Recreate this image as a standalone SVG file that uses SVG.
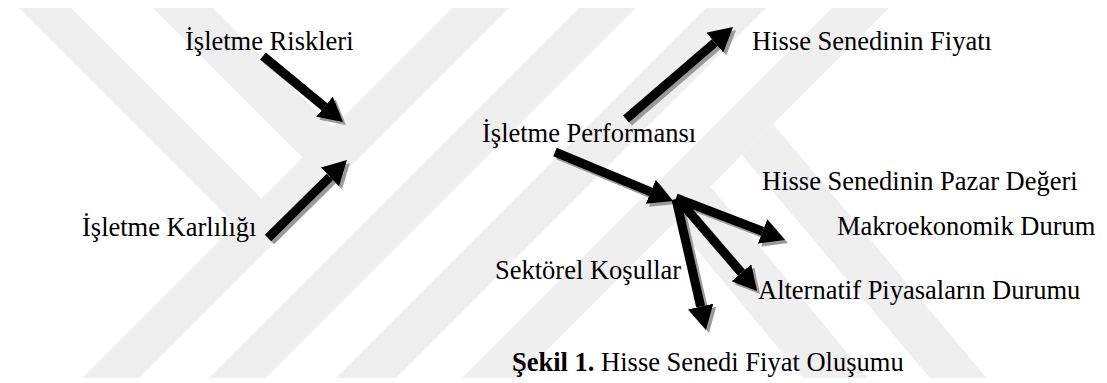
<svg xmlns="http://www.w3.org/2000/svg" width="1107" height="383" viewBox="0 0 1107 383">
<style>
text{font-family:"Liberation Serif","Times New Roman",serif;font-size:26.5px;fill:#000}
.ln{stroke:#000;stroke-width:9;fill:none}
.sh{stroke:#9a9a9a;stroke-width:9;fill:none}
.wm{fill:#efefef}
</style>
<defs>
<marker id="hb" markerUnits="userSpaceOnUse" markerWidth="24" markerHeight="26" refX="0" refY="13" orient="auto" viewBox="0 0 24 26"><path d="M0,0 L24,13 L0,26 z" fill="#000"/></marker>
<marker id="hg" markerUnits="userSpaceOnUse" markerWidth="24" markerHeight="26" refX="0" refY="13" orient="auto" viewBox="0 0 24 26"><path d="M0,0 L24,13 L0,26 z" fill="#9a9a9a"/></marker>
<clipPath id="wmclip"><rect x="0" y="8" width="1107" height="370"/></clipPath>
</defs>
<rect width="1107" height="383" fill="#fff"/>
<g id="watermark" clip-path="url(#wmclip)">
<polygon class="wm" points="460,0 517,0 134,383 77,383"/>
<polygon class="wm" points="587,0 644,0 261,383 204,383"/>
<polygon class="wm" points="714,0 774,0 391,383 331,383"/>
<polygon class="wm" points="840,0 897,0 514,383 457,383"/>
<polygon class="wm" points="11,0 63,0 262,199 236,225"/>
<polygon class="wm" points="145,0 205,0 333,128 303,158"/>
<polygon class="wm" points="710,186 872,383 807,383 674,222"/>
<polygon class="wm" points="773,124 991,383 934,383 742,155"/>
</g>
<g id="n-riskler"><text x="185" y="50">İşletme Riskleri</text></g>
<g id="n-karlilik"><text x="82" y="236">İşletme Karlılığı</text></g>
<g id="n-performans"><text x="482" y="142">İşletme Performansı</text></g>
<g id="n-fiyat"><text x="752" y="50">Hisse Senedinin Fiyatı</text></g>
<g id="n-pazar"><text x="762" y="190">Hisse Senedinin Pazar Değeri</text></g>
<g id="n-makro"><text x="837" y="235">Makroekonomik Durum</text></g>
<g id="n-sektor"><text x="495" y="279">Sektörel Koşullar</text></g>
<g id="n-alternatif"><text x="758" y="299">Alternatif Piyasaların Durumu</text></g>
<g id="caption"><text x="512" y="371"><tspan font-weight="bold">Şekil 1.</tspan> Hisse Senedi Fiyat Oluşumu</text></g>
<g id="connectors">
<g transform="translate(3,3)">
<path class="sh" marker-end="url(#hg)" d="M263,56 L324.5,106.7"/>
<path class="sh" marker-end="url(#hg)" d="M268,238 L329.9,176.9"/>
<path class="sh" marker-end="url(#hg)" d="M626,119 L714.8,42.6"/>
<path class="sh" marker-end="url(#hg)" d="M555,152 L650.8,191.8"/>
<path class="sh" marker-end="url(#hg)" d="M676,198 L762.6,231.4"/>
<path class="sh" marker-end="url(#hg)" d="M678,199 L741.4,272.8"/>
<path class="sh" marker-end="url(#hg)" d="M676,199 L700.6,306.6"/>
</g>
<path class="ln" marker-end="url(#hb)" d="M263,56 L324.5,106.7"/>
<path class="ln" marker-end="url(#hb)" d="M268,238 L329.9,176.9"/>
<path class="ln" marker-end="url(#hb)" d="M626,119 L714.8,42.6"/>
<path class="ln" marker-end="url(#hb)" d="M555,152 L650.8,191.8"/>
<path class="ln" marker-end="url(#hb)" d="M676,198 L762.6,231.4"/>
<path class="ln" marker-end="url(#hb)" d="M678,199 L741.4,272.8"/>
<path class="ln" marker-end="url(#hb)" d="M676,199 L700.6,306.6"/>
</g>
</svg>
